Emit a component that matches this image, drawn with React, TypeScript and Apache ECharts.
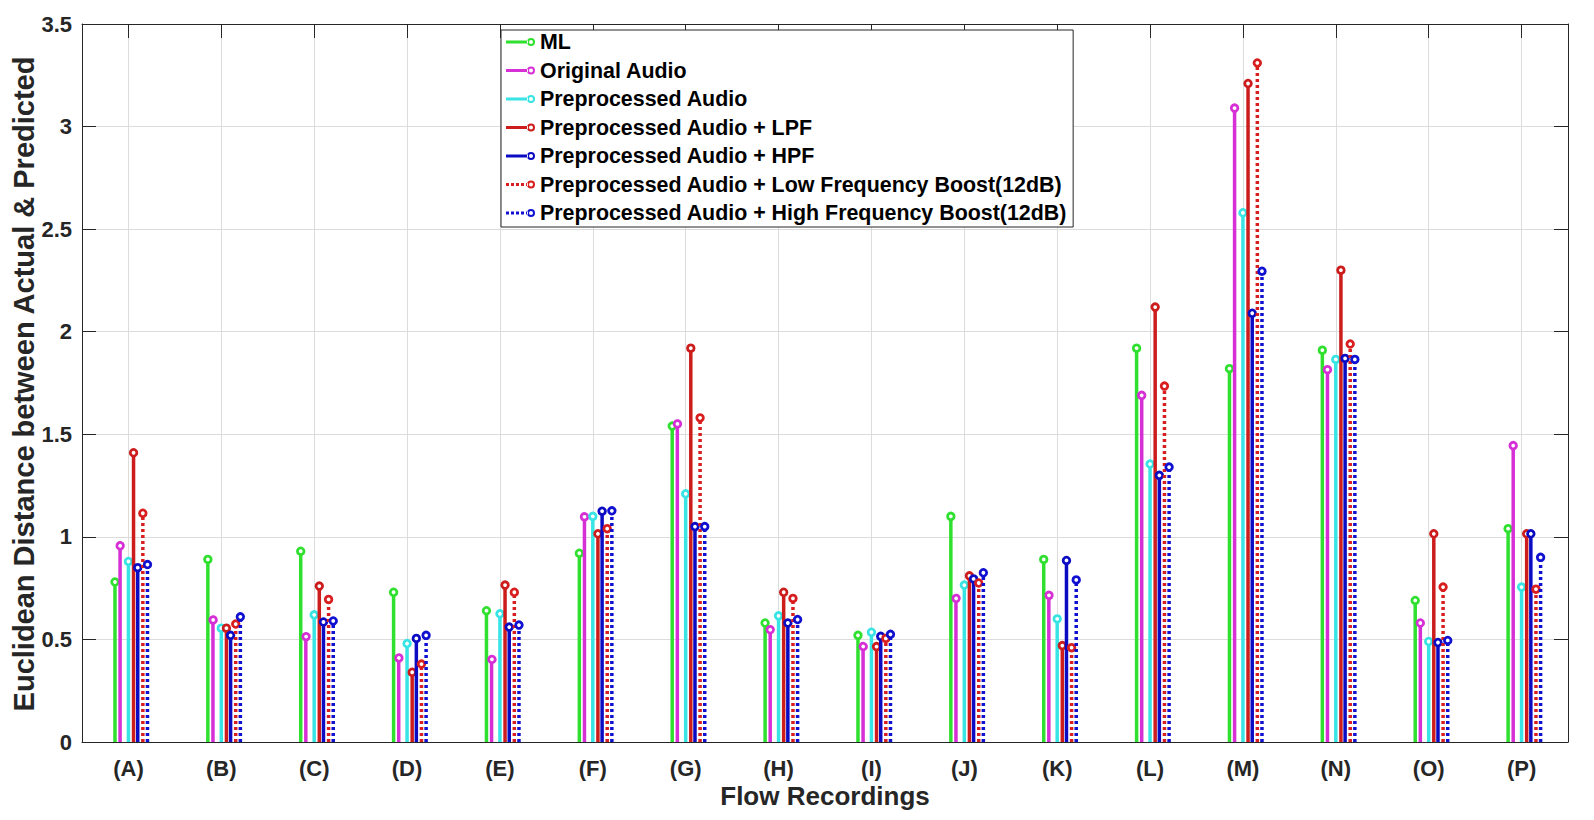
import React, { useEffect, useRef } from 'react';
import * as echarts from 'echarts';

const categories = ['(A)', '(B)', '(C)', '(D)', '(E)', '(F)', '(G)', '(H)', '(I)', '(J)', '(K)', '(L)', '(M)', '(N)', '(O)', '(P)'];

const mlValues = [0.78, 0.89, 0.93, 0.73, 0.64, 0.92, 1.54, 0.58, 0.52, 1.10, 0.89, 1.92, 1.82, 1.91, 0.69, 1.04];
const originalValues = [0.96, 0.60, 0.52, 0.415, 0.41, 1.10, 1.555, 0.55, 0.47, 0.705, 0.72, 1.69, 3.09, 1.815, 0.58, 1.445];
const preprocessedValues = [0.88, 0.555, 0.62, 0.48, 0.625, 1.10, 1.21, 0.615, 0.535, 0.765, 0.60, 1.355, 2.58, 1.865, 0.49, 0.755];
const lpfValues = [1.41, 0.555, 0.76, 0.34, 0.765, 1.015, 1.92, 0.73, 0.465, 0.81, 0.47, 2.12, 3.21, 2.30, 1.015, 1.015];
const hpfValues = [0.85, 0.52, 0.585, 0.505, 0.56, 1.125, 1.05, 0.58, 0.515, 0.795, 0.885, 1.30, 2.09, 1.87, 0.485, 1.015];
const lowBoostValues = [1.115, 0.575, 0.695, 0.38, 0.73, 1.04, 1.58, 0.70, 0.505, 0.775, 0.46, 1.735, 3.31, 1.94, 0.755, 0.745];
const highBoostValues = [0.865, 0.61, 0.59, 0.52, 0.57, 1.127, 1.05, 0.597, 0.525, 0.825, 0.79, 1.34, 2.295, 1.865, 0.495, 0.90];

const seriesNames = [
  'ML',
  'Original Audio',
  'Preprocessed Audio',
  'Preprocessed Audio + LPF',
  'Preprocessed Audio + HPF',
  'Preprocessed Audio + Low Frequency Boost(12dB)',
  'Preprocessed Audio + High Frequency Boost(12dB)',
];
const seriesValues = [mlValues, originalValues, preprocessedValues, lpfValues, hpfValues, lowBoostValues, highBoostValues];

// styles (kept apart from data)
const seriesColors = ['#2fe02f', '#d62fd6', '#38e4e4', '#cc1c1c', '#0b0bc4', '#d81e1e', '#1010d0'];
const seriesDashed = [false, false, false, false, false, true, true];
const seriesOffsets = [-0.145, -0.09, 0, 0.055, 0.1, 0.155, 0.205];

const FONT = "'Liberation Sans', Arial, Helvetica, sans-serif";
const AXIS_COLOR = '#262626';

const solidIcon =
  'path://M0,2.5L22,2.5L22,5.5L0,5.5Z M29,4A4,4 0 1,0 21,4A4,4 0 1,0 29,4Z M27,4A2,2 0 1,1 23,4A2,2 0 1,1 27,4Z';
const dashedIcon =
  'path://M0,2.5L3,2.5L3,5.5L0,5.5Z M5,2.5L8,2.5L8,5.5L5,5.5Z M10,2.5L13,2.5L13,5.5L10,5.5Z M15,2.5L18,2.5L18,5.5L15,5.5Z M20,2.5L22,2.5L22,5.5L20,5.5Z M29,4A4,4 0 1,0 21,4A4,4 0 1,0 29,4Z M27,4A2,2 0 1,1 23,4A2,2 0 1,1 27,4Z';

const tickPositions = categories.map((_, i) => i + 1);

export default function App() {
  const ref = useRef<HTMLDivElement>(null);

  useEffect(() => {
    if (!ref.current) return;
    const chart = echarts.init(ref.current, null, { renderer: 'svg' });

    const series = seriesNames.map((name, si) => {
      const color = seriesColors[si];
      const dashed = seriesDashed[si];
      return {
        type: 'custom',
        name,
        itemStyle: { color },
        clip: false,
        encode: { x: 0, y: 1 },
        data: seriesValues[si].map((v, i) => [tickPositions[i] + seriesOffsets[si], v]),
        renderItem: (params: any, api: any) => {
          const x = api.value(0);
          const y = api.value(1);
          const base = api.coord([x, 0]);
          const top = api.coord([x, y]);
          return {
            type: 'group',
            children: [
              {
                type: 'line',
                shape: { x1: base[0], y1: base[1], x2: top[0], y2: top[1] },
                style: { stroke: color, lineWidth: 3.5, lineDash: dashed ? [3, 3] : null },
              },
              {
                type: 'circle',
                shape: { cx: top[0], cy: top[1], r: 3.3 },
                style: { fill: '#ffffff', stroke: color, lineWidth: 2.8 },
              },
            ],
          };
        },
      };
    });

    const option: any = {
      animation: false,
      backgroundColor: '#ffffff',
      grid: { left: 82, right: 26, top: 24, bottom: 78, containLabel: false },
      legend: {
        orient: 'vertical',
        left: 501,
        top: 30,
        selectedMode: false,
        backgroundColor: '#ffffff',
        borderColor: AXIS_COLOR,
        borderWidth: 1,
        padding: [1, 6, 3, 5],
        itemGap: 6.5,
        itemWidth: 29,
        itemHeight: 8,
        itemStyle: { borderWidth: 0 },
        textStyle: { fontSize: 21.4, fontWeight: 'bold', color: '#000000', fontFamily: FONT, lineHeight: 22 },
        data: seriesNames.map((name, si) => ({ name, icon: seriesDashed[si] ? dashedIcon : solidIcon })),
      },
      xAxis: [
        {
          type: 'value',
          min: 0.5,
          max: 16.5,
          position: 'bottom',
          axisLine: { show: true, onZero: false, lineStyle: { color: AXIS_COLOR, width: 1 } },
          axisTick: { show: true, inside: true, length: 14, customValues: tickPositions, lineStyle: { color: AXIS_COLOR } },
          axisLabel: {
            show: true,
            customValues: tickPositions,
            margin: 15,
            fontSize: 22,
            fontWeight: 'bold',
            color: AXIS_COLOR,
            fontFamily: FONT,
            formatter: (v: number) => categories[Math.round(v) - 1] || '',
          },
          splitLine: { show: true, lineStyle: { color: '#dcdcdc', width: 1 } },
        },
        {
          type: 'value',
          min: 0.5,
          max: 16.5,
          position: 'top',
          axisLine: { show: true, onZero: false, lineStyle: { color: AXIS_COLOR, width: 1 } },
          axisTick: { show: true, inside: true, length: 14, customValues: tickPositions, lineStyle: { color: AXIS_COLOR } },
          axisLabel: { show: false },
          splitLine: { show: false },
        },
      ],
      yAxis: [
        {
          type: 'value',
          min: 0,
          max: 3.5,
          interval: 0.5,
          position: 'left',
          axisLine: { show: true, onZero: false, lineStyle: { color: AXIS_COLOR, width: 1 } },
          axisTick: { show: true, inside: true, length: 14, lineStyle: { color: AXIS_COLOR } },
          axisLabel: {
            margin: 10,
            fontSize: 22,
            fontWeight: 'bold',
            color: AXIS_COLOR,
            fontFamily: FONT,
            formatter: (v: number) => String(v),
          },
          splitLine: { show: true, lineStyle: { color: '#dcdcdc', width: 1 } },
        },
        {
          type: 'value',
          min: 0,
          max: 3.5,
          interval: 0.5,
          position: 'right',
          axisLine: { show: true, onZero: false, lineStyle: { color: AXIS_COLOR, width: 1 } },
          axisTick: { show: true, inside: true, length: 14, lineStyle: { color: AXIS_COLOR } },
          axisLabel: { show: false },
          splitLine: { show: false },
        },
      ],
      graphic: [
        {
          type: 'text',
          x: 825,
          y: 796,
          style: {
            text: 'Flow Recordings',
            fontSize: 26,
            fontWeight: 'bold',
            fontFamily: FONT,
            fill: AXIS_COLOR,
            textAlign: 'center',
            textVerticalAlign: 'middle',
          },
        },
        {
          type: 'text',
          x: 24,
          y: 384,
          rotation: Math.PI / 2,
          style: {
            text: 'Euclidean Distance between Actual & Predicted',
            fontSize: 29,
            fontWeight: 'bold',
            fontFamily: FONT,
            fill: AXIS_COLOR,
            textAlign: 'center',
            textVerticalAlign: 'middle',
          },
        },
      ],
      series,
    };

    chart.setOption(option);
    return () => chart.dispose();
  }, []);

  return (
    <div
      ref={ref}
      style={{ position: 'fixed', left: 0, top: 0, width: 1594, height: 820, background: '#ffffff' }}
    />
  );
}
